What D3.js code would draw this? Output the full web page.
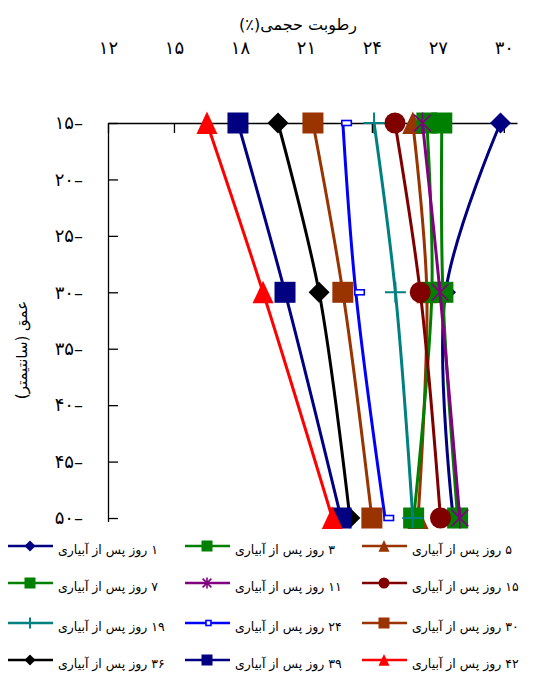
<!DOCTYPE html>
<html><head><meta charset="utf-8">
<script src="https://cdn.jsdelivr.net/npm/d3@7"></script>
<style>body{margin:0;background:#fff}svg{display:block}text{font-family:"DejaVu Sans",sans-serif}</style>
</head><body><svg id="c" width="541" height="673"></svg>
<script>
const depths = [15, 30, 50];
const xTicks = [12, 15, 18, 21, 24, 27, 30];
const yTicks = [15, 20, 25, 30, 35, 40, 45, 50];
const dayLabels = ["۱","۳","۵","۷","۱۱","۱۵","۱۹","۲۴","۳۰","۳۶","۳۹","۴۲"];
const day1  = [29.85, 27.35, 27.7];
const day3  = [27.18, 27.23, 27.9];
const day5  = [25.86, 26.5, 26.1];
const day7  = [26.5, 26.73, 25.9];
const day11 = [26.3, 27.1, 28.0];
const day15 = [25.05, 26.2, 27.12];
const day19 = [24.1, 25.07, 25.86];
const day24 = [22.68, 23.27, 24.6];
const day30 = [21.32, 22.68, 24.0];
const day36 = [19.73, 21.6, 23.0];
const day39 = [17.91, 20.05, 22.6];
const day42 = [16.5, 19.05, 22.2];
const seriesValues = [day1, day3, day5, day7, day11, day15, day19, day24, day30, day36, day39, day42];
const colors = ["#000080","#008000","#993300","#008000","#800080","#800000","#008080","#0000FF","#993300","#000000","#000080","#FF0000"];
const markers = ["diamond","square","triangle","square","asterisk","circle","plus","dash","square","diamond","square","triangle"];
const titleText = "رطوبت حجمی(٪)";
const yTitle = "عمق (سانتیمتر)";
const suffix = " روز پس از آبیاری";

const fa = s => String(s).replace(/\d/g, d => "۰۱۲۳۴۵۶۷۸۹"[d]);
const svg = d3.select("#c");
const x = d3.scaleLinear().domain([12, 30.6]).range([108, 517]);
const y = d3.scaleLinear().domain([15, 50.3]).range([123, 521.4]);

// axes
const gx = svg.append("g").attr("transform", `translate(0,${y(15)})`)
  .call(d3.axisTop(x).tickValues(xTicks).tickSizeInner(-10).tickSizeOuter(0).tickPadding(69).tickFormat(fa));
const gy = svg.append("g").attr("transform", `translate(${x(12)},0)`)
  .call(d3.axisLeft(y).tickValues(yTicks).tickSizeInner(-10).tickSizeOuter(0).tickPadding(25).tickFormat(d => fa(d) + "–"));
[gx, gy].forEach(g => {
  g.selectAll("path,line").attr("stroke", "#000").attr("stroke-width", 1.3);
  g.selectAll("text").attr("font-size", 18).attr("fill", "#000");
});

svg.append("text").attr("x", 298).attr("y", 30).attr("text-anchor", "middle").attr("direction", "rtl").attr("font-size", 16).text(titleText);
svg.append("text").attr("transform", "translate(27,350) rotate(-90)").attr("text-anchor", "middle").attr("direction", "rtl").attr("font-size", 15).text(yTitle);

function drawMarker(g, type, s, color) {
  const h = s / 2;
  if (type === "diamond") g.append("path").attr("d", `M0,${-h}L${h},0L0,${h}L${-h},0Z`).attr("fill", color);
  else if (type === "square") g.append("rect").attr("x", -h).attr("y", -h).attr("width", s).attr("height", s).attr("fill", color);
  else if (type === "triangle") g.append("path").attr("d", `M0,${-h*1.1}L${h},${h*1.05}L${-h},${h*1.05}Z`).attr("fill", color);
  else if (type === "circle") g.append("circle").attr("r", h).attr("fill", color);
  else if (type === "plus") g.append("path").attr("d", `M0,${-h}V${h}M${-h},0H${h}`).attr("stroke", color).attr("stroke-width", 2);
  else if (type === "asterisk") { const k = h * 0.8; g.append("path").attr("d", `M${-k},${-k}L${k},${k}M${k},${-k}L${-k},${k}M0,${-h}V${h}`).attr("stroke", color).attr("stroke-width", 1.6); }
  else if (type === "dash") g.append("rect").attr("x", -1).attr("y", -2.5).attr("width", s * 0.45).attr("height", 5).attr("fill", "#fff").attr("stroke", color).attr("stroke-width", 1.6);
}

const line = d3.line().x(d => x(d[0])).y(d => y(d[1])).curve(d3.curveCatmullRom.alpha(0.5));
const plot = svg.append("g");
seriesValues.forEach((vals, i) => {
  const pts = vals.map((v, j) => [v, depths[j]]);
  plot.append("path").attr("d", line(pts)).attr("fill", "none").attr("stroke", colors[i]).attr("stroke-width", 3);
  pts.forEach(p => {
    const g = plot.append("g").attr("transform", `translate(${x(p[0])},${y(p[1])})`);
    drawMarker(g, markers[i], 21, colors[i]);
  });
});

// legend
const colX = [8, 185, 362];
const rowY = [546, 583, 623, 660];
dayLabels.forEach((d, i) => {
  const cx = colX[i % 3], cy = rowY[Math.floor(i / 3)];
  const g = svg.append("g");
  g.append("line").attr("x1", cx).attr("x2", cx + 45).attr("y1", cy).attr("y2", cy).attr("stroke", colors[i]).attr("stroke-width", 2.5);
  drawMarker(g.append("g").attr("transform", `translate(${cx + 22},${cy})`), markers[i], 11, colors[i]);
  g.append("text").attr("x", cx + 50).attr("y", cy + 8).attr("font-size", 12.5)
    .attr("direction", "rtl").attr("text-anchor", "end").text(d + suffix);
});
</script></body></html>
